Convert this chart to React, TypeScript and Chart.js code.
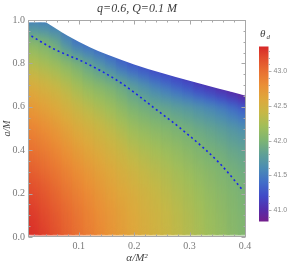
import React, { useEffect, useRef } from "react";
import { Chart, registerables } from "chart.js";

Chart.register(...registerables);

// ---------- text ----------
const titleText = "q=0.6, Q=0.1 M";
const xAxisTitle = "α/M²";
const yAxisTitle = "a/M";
const legendTitle = "θ";
const legendSub = "d";

// ---------- density field (columns of the plot) ----------
const columnX = [0.02, 0.04, 0.06, 0.08, 0.1, 0.12, 0.14, 0.16, 0.18, 0.2, 0.22, 0.24, 0.26, 0.28, 0.3, 0.32, 0.34, 0.36, 0.38, 0.4];
const columnTop = [0.99, 0.99, 0.975, 0.94, 0.912, 0.886, 0.863, 0.842, 0.822, 0.804, 0.787, 0.771, 0.756, 0.741, 0.726, 0.712, 0.698, 0.685, 0.671, 0.658];
const fieldBottom = 0.01;
const levelY = [0.01, 0.1, 0.2, 0.3, 0.4, 0.5, 0.6, 0.7, 0.8, 0.9];
const columnValues = [
  [43.32, 43.28, 43.2, 43.1, 42.99, 42.87, 42.72, 42.54, 42.3, 42.05],
  [43.25, 43.21, 43.14, 43.04, 42.93, 42.81, 42.66, 42.48, 42.24, 41.99],
  [43.17, 43.13, 43.06, 42.97, 42.86, 42.74, 42.59, 42.41, 42.17, 41.9],
  [43.08, 43.05, 42.98, 42.89, 42.78, 42.66, 42.5, 42.32, 42.08, 41.64],
  [43.0, 42.97, 42.9, 42.81, 42.7, 42.57, 42.41, 42.22, 41.98, 41.4],
  [42.92, 42.89, 42.83, 42.74, 42.63, 42.5, 42.33, 42.12, 41.84],
  [42.84, 42.81, 42.75, 42.67, 42.56, 42.43, 42.26, 42.05, 41.7],
  [42.76, 42.74, 42.68, 42.6, 42.49, 42.36, 42.19, 41.98, 41.55],
  [42.69, 42.67, 42.61, 42.53, 42.42, 42.28, 42.1, 41.88, 41.36],
  [42.62, 42.6, 42.55, 42.46, 42.34, 42.19, 42.0, 41.76, 41.23],
  [42.55, 42.53, 42.48, 42.4, 42.28, 42.13, 41.94, 41.65],
  [42.49, 42.47, 42.42, 42.34, 42.23, 42.08, 41.88, 41.53],
  [42.43, 42.41, 42.36, 42.29, 42.18, 42.04, 41.83, 41.43],
  [42.37, 42.35, 42.3, 42.23, 42.13, 41.99, 41.77, 41.32],
  [42.31, 42.29, 42.25, 42.18, 42.08, 41.95, 41.72, 41.22],
  [42.25, 42.23, 42.19, 42.12, 42.02, 41.89, 41.65, 41.08],
  [42.19, 42.17, 42.13, 42.07, 41.97, 41.84, 41.58],
  [42.14, 42.12, 42.08, 42.02, 41.93, 41.78, 41.5],
  [42.08, 42.06, 42.03, 41.97, 41.87, 41.71, 41.4],
  [42.03, 42.01, 41.98, 41.92, 41.82, 41.64, 41.28],
];
const columnTopValue = [41.52, 41.49, 41.46, 41.42, 41.38, 41.35, 41.32, 41.29, 41.25, 41.21, 41.18, 41.15, 41.12, 41.09, 41.06, 41.02, 40.99, 40.95, 40.91, 40.86];

// upper edge of the region
const boundaryX = [0.01, 0.0385, 0.05, 0.06, 0.08, 0.1, 0.12, 0.15, 0.2, 0.25, 0.3, 0.35, 0.4];
const boundaryY = [0.99, 0.99, 0.975, 0.958, 0.927, 0.9, 0.875, 0.842, 0.795, 0.756, 0.72, 0.685, 0.652];

// dashed curve
const dashX = [0.0145, 0.053, 0.114, 0.174, 0.234, 0.295, 0.355, 0.397];
const dashY = [0.926, 0.869, 0.8, 0.714, 0.599, 0.477, 0.338, 0.213];

// ---------- ticks ----------
const xMajorTicks = [0.1, 0.2, 0.3, 0.4];
const xMinorTicks = [0.02, 0.04, 0.06, 0.08, 0.12, 0.14, 0.16, 0.18, 0.22, 0.24, 0.26, 0.28, 0.32, 0.34, 0.36, 0.38];
const yMajorTicks = [0, 0.2, 0.4, 0.6, 0.8, 1.0];
const yMinorTicks = [0.05, 0.1, 0.15, 0.25, 0.3, 0.35, 0.45, 0.5, 0.55, 0.65, 0.7, 0.75, 0.85, 0.9, 0.95];
const barTicks = [41.0, 41.5, 42.0, 42.5, 43.0];
const barMinorTicks = [40.9, 41.1, 41.2, 41.3, 41.4, 41.6, 41.7, 41.8, 41.9, 42.1, 42.2, 42.3, 42.4, 42.6, 42.7, 42.8, 42.9, 43.1, 43.2, 43.3];

// ---------- colour scale ----------
const cmapValues = [40.83, 41.0, 41.2, 41.4, 41.6, 41.8, 42.0, 42.2, 42.4, 42.6, 42.8, 43.0, 43.2, 43.36];
const cmapColors = ["#731e8c", "#552daa", "#414bc8", "#416ec8", "#4b8cb4", "#5fa096", "#7db473", "#a0be5a", "#c6b846", "#dea83c", "#ea8f36", "#e87032", "#e14b2d", "#d72828"];

const X_MIN = 0.0083;
const X_MAX = 0.402;
const Y_MIN = 0;
const Y_MAX = 1;

function hexToRgb(h: string): number[] {
  return [parseInt(h.slice(1, 3), 16), parseInt(h.slice(3, 5), 16), parseInt(h.slice(5, 7), 16)];
}
const cmapRgb = cmapColors.map(hexToRgb);

function colorFor(v: number): string {
  const n = cmapValues.length;
  if (v <= cmapValues[0]) return `rgb(${cmapRgb[0].join(",")})`;
  if (v >= cmapValues[n - 1]) return `rgb(${cmapRgb[n - 1].join(",")})`;
  let i = 0;
  while (i < n - 2 && v > cmapValues[i + 1]) i++;
  const t = (v - cmapValues[i]) / (cmapValues[i + 1] - cmapValues[i]);
  const a = cmapRgb[i];
  const b = cmapRgb[i + 1];
  const c = a.map((av, k) => Math.round(av + (b[k] - av) * t));
  return `rgb(${c.join(",")})`;
}

function columnGradient(c: any) {
  const ch = c.chart;
  if (!ch.chartArea || c.type !== "data") return "rgba(0,0,0,0)";
  const i = c.dataIndex;
  const ys = ch.scales.y;
  const top = columnTop[i];
  const yb = ys.getPixelForValue(fieldBottom);
  const ytp = ys.getPixelForValue(top);
  const grad = ch.ctx.createLinearGradient(0, yb, 0, ytp);
  const vals = columnValues[i];
  const ptsY = levelY.slice(0, vals.length).concat([top]);
  const ptsV = vals.concat([columnTopValue[i]]);
  for (let k = 0; k < ptsY.length - 1; k++) {
    for (let s = 0; s <= 4; s++) {
      const yy = ptsY[k] + ((ptsY[k + 1] - ptsY[k]) * s) / 4;
      const vv = ptsV[k] + ((ptsV[k + 1] - ptsV[k]) * s) / 4;
      const t = Math.min(1, Math.max(0, (yy - fieldBottom) / (top - fieldBottom)));
      grad.addColorStop(t, colorFor(vv));
    }
  }
  return grad;
}

function App() {
  const ref = useRef<HTMLCanvasElement>(null);

  useEffect(() => {
    const canvas = ref.current;
    if (!canvas) return;

    const decorPlugin = {
      id: "decor",
      beforeDatasetDraw(chart: any, args: any) {
        if (args.index === 1) {
          chart.ctx.save();
          chart.ctx.filter = "blur(5px)";
        }
      },
      afterDatasetDraw(chart: any, args: any) {
        if (args.index === 1) chart.ctx.restore();
      },
      afterDatasetsDraw(chart: any) {
        const { ctx, chartArea, scales } = chart;
        const xs = scales.x;
        const ys = scales.y;
        ctx.save();
        ctx.strokeStyle = "#a8a8a8";
        ctx.lineWidth = 1;
        const L = Math.round(chartArea.left) + 0.5;
        const R = Math.round(chartArea.right) - 0.5;
        const T = Math.round(chartArea.top) + 0.5;
        const B = Math.round(chartArea.bottom) - 0.5;
        ctx.strokeRect(L, T, R - L, B - T);
        ctx.beginPath();
        const xt = (v: number, len: number) => {
          const p = Math.round(xs.getPixelForValue(v)) + 0.5;
          ctx.moveTo(p, B);
          ctx.lineTo(p, B - len);
          ctx.moveTo(p, T);
          ctx.lineTo(p, T + len);
        };
        const yt = (v: number, len: number) => {
          const p = Math.round(ys.getPixelForValue(v)) + 0.5;
          ctx.moveTo(L, p);
          ctx.lineTo(L + len, p);
          ctx.moveTo(R, p);
          ctx.lineTo(R - len, p);
        };
        xMajorTicks.forEach((v) => xt(v, 4));
        xMinorTicks.forEach((v) => xt(v, 2));
        yMajorTicks.forEach((v) => yt(v, 4));
        yMinorTicks.forEach((v) => yt(v, 2));
        ctx.stroke();
        ctx.restore();
      },
      afterDraw(chart: any) {
        const { ctx, chartArea } = chart;
        ctx.save();
        // title
        ctx.fillStyle = "#3c3c3c";
        ctx.font = 'italic 12px "Liberation Serif"';
        ctx.textAlign = "center";
        ctx.textBaseline = "middle";
        ctx.fillText(titleText, (chartArea.left + chartArea.right) / 2, 9);

        // colour bar
        const bx = 259;
        const bw = 9.5;
        const bTop = 46.5;
        const bBot = 221.5;
        const vmin = cmapValues[0];
        const vmax = cmapValues[cmapValues.length - 1];
        const g = ctx.createLinearGradient(0, bBot, 0, bTop);
        cmapValues.forEach((v, i) => g.addColorStop((v - vmin) / (vmax - vmin), cmapColors[i]));
        ctx.fillStyle = g;
        ctx.fillRect(bx, bTop, bw, bBot - bTop);
        const yFor = (v: number) => bTop + ((vmax - v) / (vmax - vmin)) * (bBot - bTop);
        ctx.strokeStyle = "#b0b0b0";
        ctx.lineWidth = 1;
        ctx.beginPath();
        barMinorTicks.forEach((v) => {
          const p = Math.round(yFor(v)) + 0.5;
          ctx.moveTo(bx + bw, p);
          ctx.lineTo(bx + bw + 1.5, p);
        });
        barTicks.forEach((v) => {
          const p = Math.round(yFor(v)) + 0.5;
          ctx.moveTo(bx + bw, p);
          ctx.lineTo(bx + bw + 3, p);
        });
        ctx.stroke();
        ctx.fillStyle = "#8a8a8a";
        ctx.font = '7px "Liberation Sans"';
        ctx.textAlign = "left";
        ctx.textBaseline = "middle";
        barTicks.forEach((v) => ctx.fillText(v.toFixed(1), 273.5, yFor(v)));

        // legend title
        ctx.fillStyle = "#444";
        ctx.font = 'italic 11px "Liberation Serif"';
        ctx.textBaseline = "alphabetic";
        ctx.fillText(legendTitle, 260, 37);
        ctx.font = 'italic 7px "Liberation Serif"';
        ctx.fillText(legendSub, 266.5, 38.5);
        ctx.restore();
      },
    };

    const fieldData = columnX.map((x, i) => ({ x, y: [fieldBottom, columnTop[i]] }));

    const chart = new Chart(canvas, {
      type: "bar",
      data: {
        datasets: [
          {
            type: "bar",
            order: 4,
            data: fieldData as any,
            grouped: false,
            barPercentage: 1.3,
            categoryPercentage: 1,
            borderWidth: 0,
            inflateAmount: 0,
            backgroundColor: columnGradient,
          } as any,
          {
            type: "bar",
            order: 3,
            data: fieldData as any,
            grouped: false,
            barPercentage: 1.3,
            categoryPercentage: 1,
            borderWidth: 0,
            inflateAmount: 0,
            backgroundColor: columnGradient,
          } as any,
          {
            type: "line",
            order: 2,
            data: boundaryX.map((x, i) => ({ x, y: boundaryY[i] })),
            fill: "end",
            backgroundColor: "#ffffff",
            borderColor: "rgba(0,0,0,0)",
            borderWidth: 0,
            pointRadius: 0,
            cubicInterpolationMode: "monotone",
          } as any,
          {
            type: "line",
            order: 1,
            data: dashX.map((x, i) => ({ x, y: dashY[i] })),
            fill: false,
            borderColor: "rgb(25,35,235)",
            borderWidth: 1.6,
            borderDash: [2, 3],
            pointRadius: 0,
            cubicInterpolationMode: "monotone",
          } as any,
        ],
      },
      options: {
        animation: false,
        responsive: false,
        devicePixelRatio: 1,
        events: [],
        layout: { padding: { top: 20, right: 45, left: 0, bottom: 0 } },
        plugins: {
          legend: { display: false },
          tooltip: { enabled: false },
          title: { display: false },
        },
        scales: {
          x: {
            type: "linear",
            min: X_MIN,
            max: X_MAX,
            offset: false,
            grid: { display: false, drawTicks: false },
            border: { display: false },
            afterBuildTicks: (s: any) => {
              s.ticks = xMajorTicks.map((value) => ({ value }));
            },
            afterFit: (s: any) => {
              s.height = 30;
            },
            ticks: {
              autoSkip: false,
              maxRotation: 0,
              padding: 3,
              color: "#7a7a7a",
              font: { family: '"Liberation Serif"', size: 10 },
              callback: (v: any) => Number(v).toFixed(1),
            },
            title: {
              display: true,
              text: xAxisTitle,
              color: "#444",
              font: { family: '"Liberation Serif"', size: 11, style: "italic" },
              padding: { top: 0, bottom: 2 },
            },
          },
          y: {
            type: "linear",
            min: Y_MIN,
            max: Y_MAX,
            grid: { display: false, drawTicks: false },
            border: { display: false },
            afterBuildTicks: (s: any) => {
              s.ticks = yMajorTicks.map((value) => ({ value }));
            },
            afterFit: (s: any) => {
              s.width = 28;
            },
            ticks: {
              autoSkip: false,
              padding: 3,
              color: "#7a7a7a",
              font: { family: '"Liberation Serif"', size: 10 },
              callback: (v: any) => Number(v).toFixed(1),
            },
            title: {
              display: true,
              text: yAxisTitle,
              color: "#444",
              font: { family: '"Liberation Serif"', size: 10, style: "italic" },
              padding: { top: 1, bottom: 0 },
            },
          },
        },
      } as any,
      plugins: [decorPlugin],
    });

    return () => chart.destroy();
  }, []);

  return (
    <div style={{ position: "fixed", left: 0, top: 0, width: 291, height: 267, background: "#fff" }}>
      <canvas ref={ref} width={291} height={267} style={{ display: "block", width: 291, height: 267 }} />
    </div>
  );
}

export default App;
